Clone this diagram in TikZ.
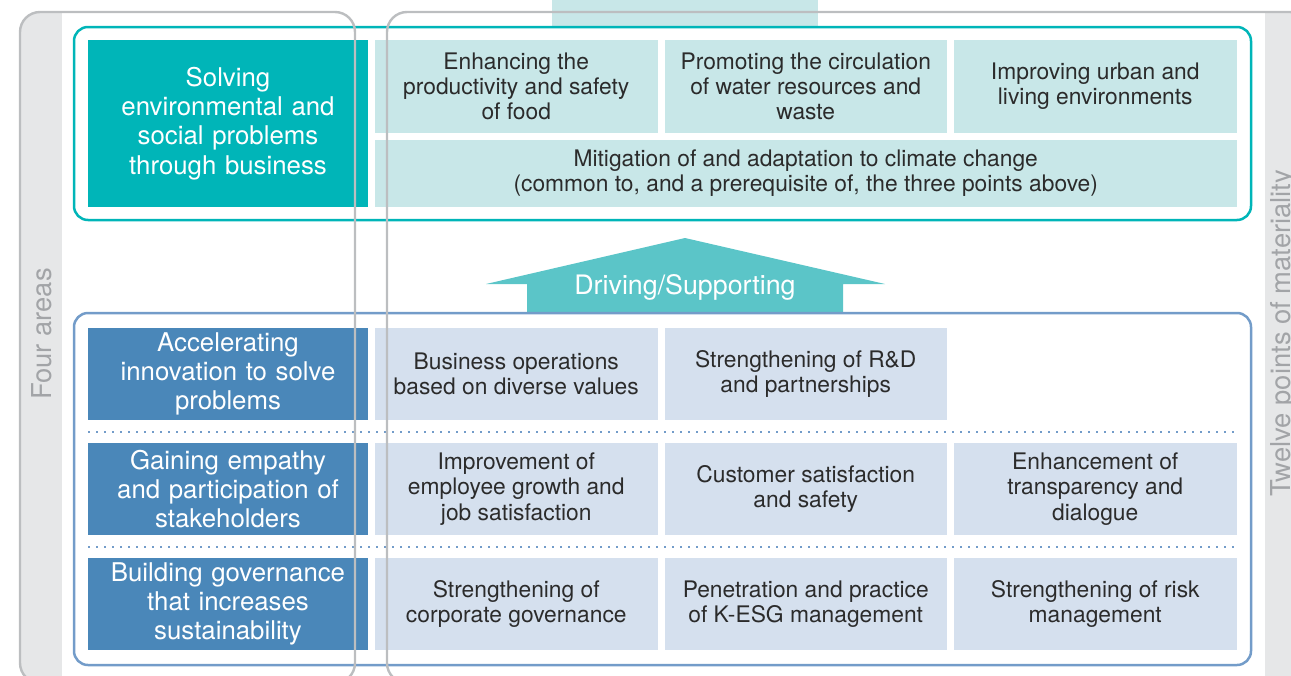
\documentclass[tikz,border=0pt]{standalone}
\usepackage{fontspec}
\setmainfont{TeX Gyre Heros}
\usepackage{xcolor}
\usepackage{tikz}
\usetikzlibrary{positioning, calc}

\definecolor{tealdark}{HTML}{00B5B8}
\definecolor{teallight}{HTML}{C8E7E8}
\definecolor{tealarrow}{HTML}{5BC5C8}
\definecolor{bluedark}{HTML}{4A87B9}
\definecolor{bluelight}{HTML}{D5E0EE}
\definecolor{blueline}{HTML}{739CC9}
\definecolor{framegray}{HTML}{BCBEC0}
\definecolor{stripgray}{HTML}{E6E7E8}
\definecolor{labelgray}{HTML}{A2A4A7}
\definecolor{celltext}{HTML}{2B2B2B}

\tikzstyle{area} = [rectangle, minimum width=140pt, text width=136pt, align=center, text=white, inner sep=0pt, outer sep=0pt, font=\fontsize{12.9}{14.6}\selectfont]
\tikzstyle{envarea} = [area, fill=tealdark, minimum height=83.5pt]
\tikzstyle{basearea} = [area, fill=bluedark, minimum height=46pt]
\tikzstyle{point} = [rectangle, minimum width=141.25pt, minimum height=46.5pt, align=center, text=celltext, inner sep=0pt, outer sep=0pt, font=\fontsize{11.4}{12.6}\selectfont]
\tikzstyle{envpoint} = [point, fill=teallight]
\tikzstyle{basepoint} = [point, fill=bluelight, minimum height=46pt]
\tikzstyle{group} = [rounded corners=7pt, line width=1.25pt]
\tikzstyle{frame} = [draw=framegray, line width=1.2pt, rounded corners=10pt]
\tikzstyle{sep} = [blueline, line width=1pt, dash pattern=on 0.9pt off 3.1pt]
\tikzstyle{sidelabel} = [rotate=90, anchor=base, text=labelgray, inner sep=0pt, font=\fontsize{13.7}{15}\selectfont]

\begin{document}
\begin{tikzpicture}[x=0.5pt, y=-0.5pt]
    \useasboundingbox (0,0) rectangle (1291,675);

    % Background strips
    \fill[teallight] (552,0) rectangle (818,27);
    \begin{scope}
        \clip[rounded corners=10pt] (20,12) rectangle (355,683);
        \fill[stripgray] (20,0) rectangle (62,695);
    \end{scope}
    \begin{scope}
        \clip[rounded corners=10pt] (387,12) rectangle (1310,683);
        \fill[stripgray] (1265,0) rectangle (1310,695);
    \end{scope}

    % Environmental and social problems
    \draw[group, draw=tealdark] (74,27) rectangle (1251,220);
    \node[envarea] (solve) at (228,123.5) {Solving\\environmental and\\social problems\\through business};
    \node[envpoint, right=3.5pt of solve.north east, anchor=north west] (food) {Enhancing the\\productivity and safety\\of food};
    \node[envpoint, right=3.5pt of food] (water) {Promoting the circulation\\of water resources and\\waste};
    \node[envpoint, right=3.5pt of water] (urban) {Improving urban and\\living environments};
    \node[envpoint, below=3.5pt of food.south west, anchor=north west, minimum width=430.75pt, minimum height=33.5pt] (climate) {Mitigation of and adaptation to climate change\\(common to, and a prerequisite of, the three points above)};

    % Arrow
    \fill[tealarrow] (685,238) -- (885,284) -- (843,284) -- (843,313) -- (527,313) -- (527,284) -- (486,284) -- cycle;
    \node[text=white, font=\fontsize{13.4}{15}\selectfont] (drive) at (685,287) {Driving/Supporting};

    % Foundation
    \draw[group, draw=blueline] (74,313) rectangle (1251,665);
    \node[basearea] (innov) at (228,374) {Accelerating\\innovation to solve\\problems};
    \node[basearea, below=11.5pt of innov] (gain) {Gaining empathy\\and participation of\\stakeholders};
    \node[basearea, below=11.5pt of gain] (govern) {Building governance\\that increases\\sustainability};
    \node[basepoint, right=3.5pt of innov] (values) {Business operations\\based on diverse values};
    \node[basepoint, right=3.5pt of values] (rnd) {Strengthening of R\&D\\and partnerships};
    \node[basepoint, right=3.5pt of gain] (growth) {Improvement of\\employee growth and\\job satisfaction};
    \node[basepoint, right=3.5pt of growth] (customer) {Customer satisfaction\\and safety};
    \node[basepoint, right=3.5pt of customer] (dialogue) {Enhancement of\\transparency and\\dialogue};
    \node[basepoint, right=3.5pt of govern] (corporate) {Strengthening of\\corporate governance};
    \node[basepoint, right=3.5pt of corporate] (kesg) {Penetration and practice\\of K-ESG management};
    \node[basepoint, right=3.5pt of kesg] (risk) {Strengthening of risk\\management};

    % Separators
    \coordinate (s1) at ($(innov.south west)!.5!(gain.north west)$);
    \coordinate (s2) at ($(gain.south west)!.5!(govern.north west)$);
    \draw[sep] (s1) -- (s1 -| dialogue.east);
    \draw[sep] (s2) -- (s2 -| dialogue.east);

    % Outer frames
    \draw[frame] (20,12) rectangle (355,683);
    \draw[frame] (387,12) rectangle (1310,683);
    \node[sidelabel] (four) at (51,334) {Four areas};
    \node[sidelabel] (twelve) at (1290,333) {Twelve points of materiality};

\end{tikzpicture}
\end{document}
